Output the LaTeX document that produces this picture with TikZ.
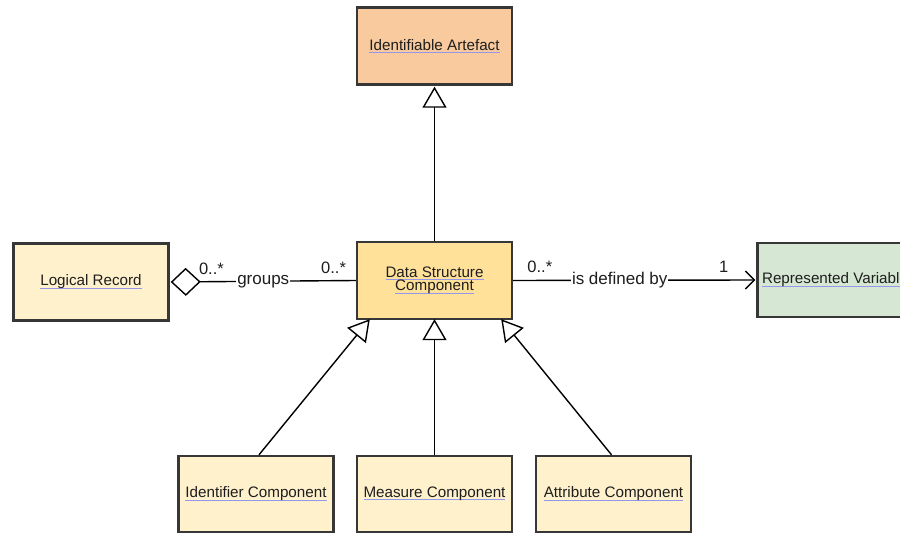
\documentclass[tikz,border=0pt]{standalone}
\usepackage{fontspec}
\setmainfont{Liberation Sans}
\usepackage{xcolor}
\usepackage{tikz}
\usetikzlibrary{positioning,arrows.meta}
\definecolor{edgegray}{RGB}{55,55,55}
\definecolor{inkgray}{RGB}{30,30,30}
\definecolor{artefactorange}{RGB}{248,202,157}
\definecolor{paleyellow}{RGB}{255,241,204}
\definecolor{coreyellow}{RGB}{255,225,153}
\definecolor{palegreen}{RGB}{214,232,212}
\definecolor{linkblue}{RGB}{150,150,235}
\newcommand{\lnk}[1]{\setbox0\hbox{#1}\rlap{\color{linkblue}\rule[-2.5pt]{\wd0}{0.9pt}}\box0}
\tikzset{
  class-node/.style={draw=edgegray, line width=2.4pt, minimum width=155pt,
    minimum height=77pt, inner sep=0pt, align=center, text=inkgray,
    font=\fontsize{15.2}{15.5}\selectfont},
  gen-arrow/.style={-{Triangle[open, length=21pt, width=24pt, fill=white]},
    line width=1.4pt, draw=black},
  agg-arrow/.style={{Diamond[open, length=30pt, width=28pt, fill=white]}-,
    line width=1.4pt, draw=black},
  assoc-arrow/.style={-{Straight Barb[length=9pt, width=18pt, line width=1.4pt]},
    line width=1.4pt, draw=black},
  role-text/.style={font=\fontsize{17}{18}\selectfont, text=inkgray, inner sep=1pt},
  mult-text/.style={font=\fontsize{16.5}{18}\selectfont, text=inkgray, inner sep=1pt}
}
\begin{document}
\begin{tikzpicture}[x=1pt, y=-1pt]
\useasboundingbox[fill=white] (0,0) rectangle (900,534);
\node[class-node, fill=artefactorange] (artefact) at (434.5,46) {\lnk{Identifiable Artefact}};
\node[class-node, fill=coreyellow] (dsc) at (434.5,280.5) {\lnk{Data Structure}\\[-2pt]\lnk{Component}};
\node[class-node, fill=paleyellow] (record) at (91,282) {\lnk{Logical Record}};
\node[class-node, fill=palegreen, minimum height=74pt] (repvar) at (835,280) {\lnk{Represented Variable}};
\node[class-node, fill=paleyellow, minimum height=76pt] (identcomp) at (256,494) {\lnk{Identifier Component}};
\node[class-node, fill=paleyellow, minimum height=76pt] (measurecomp) at (434.5,494) {\lnk{Measure Component}};
\node[class-node, fill=paleyellow, minimum height=76pt] (attribcomp) at (613.5,494) {\lnk{Attribute Component}};
\draw[gen-arrow] (dsc.north) -- ([yshift=-1pt]artefact.south);
\draw[gen-arrow] ([xshift=3pt]identcomp.north) -- ([xshift=14pt, yshift=1pt]dsc.south west);
\draw[gen-arrow] (measurecomp.north) -- ([yshift=1pt]dsc.south);
\draw[gen-arrow] ([xshift=-2pt]attribcomp.north) -- ([xshift=-12pt, yshift=1pt]dsc.south east);
\draw[agg-arrow] ([xshift=1pt]record.east) -- (dsc.west)
  node[pos=0.5, role-text, fill=white] {groups}
  node[pos=0.22, mult-text, above=5pt] {0..*}
  node[pos=0.88, mult-text, above=5pt] {0..*};
\draw[assoc-arrow] (dsc.east) -- ([xshift=-1pt]repvar.west)
  node[pos=0.44, role-text, fill=white] {is defined by}
  node[pos=0.11, mult-text, above=6pt] {0..*}
  node[pos=0.87, mult-text, above=6pt] {1};
\end{tikzpicture}
\end{document}
